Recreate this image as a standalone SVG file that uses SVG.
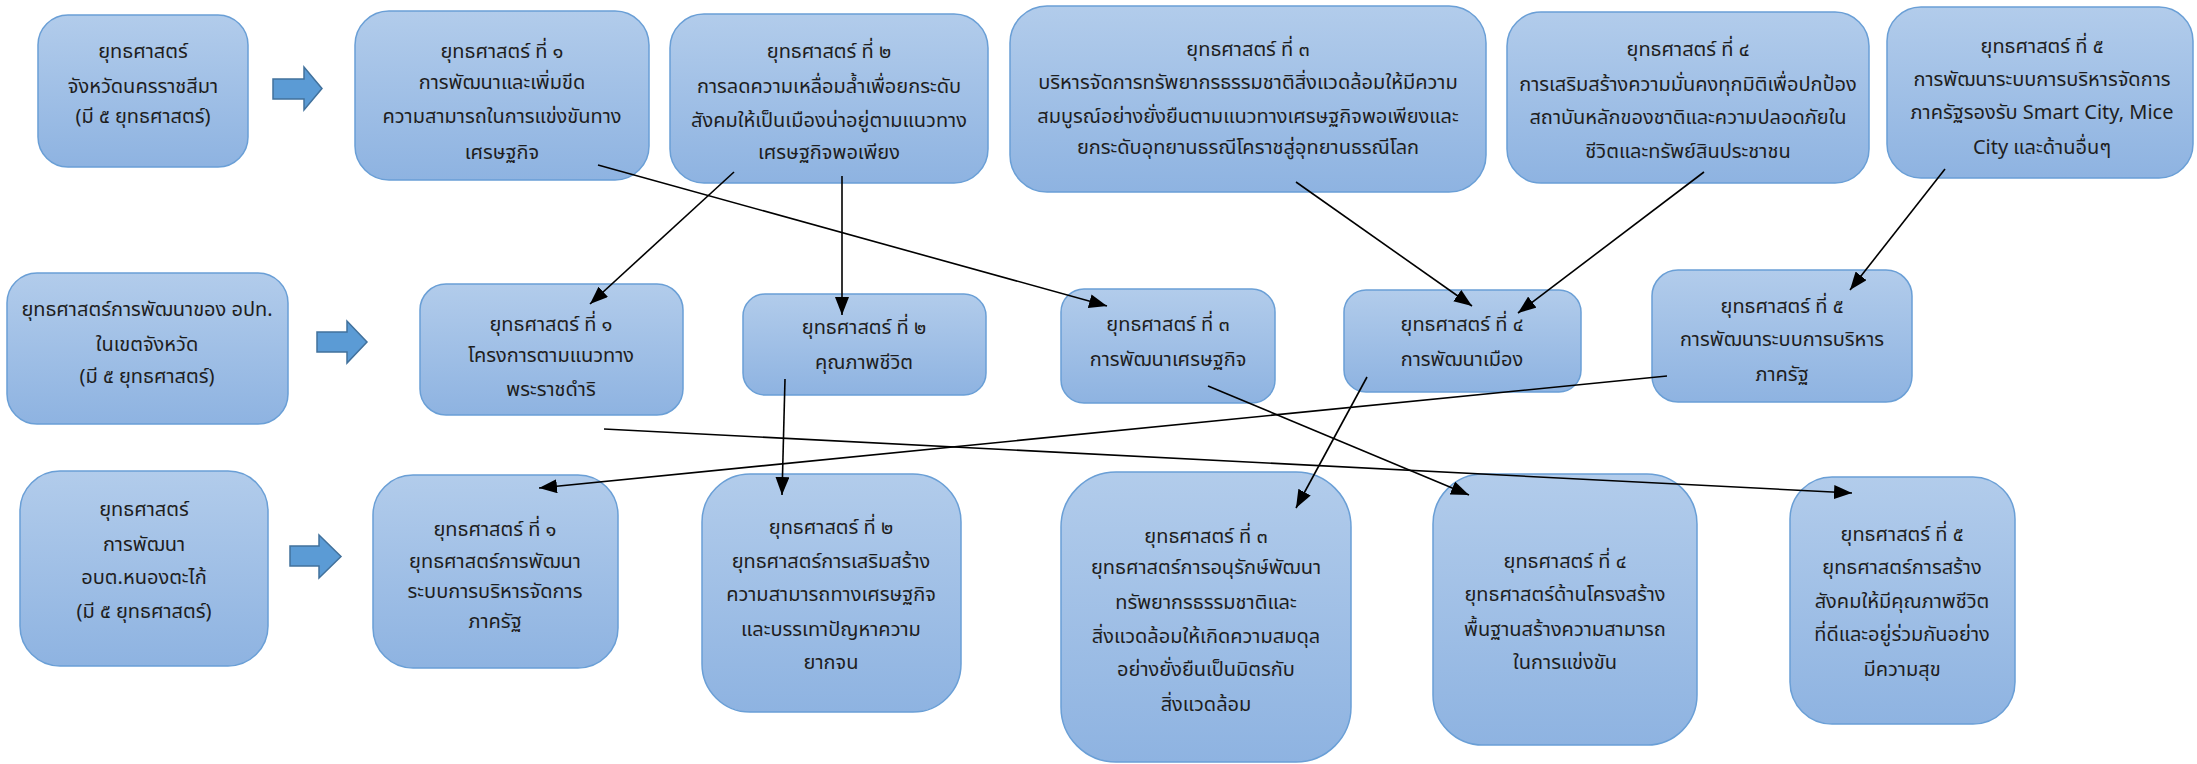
<svg xmlns="http://www.w3.org/2000/svg" width="2197" height="764" viewBox="0 0 2197 764">
<defs>
<linearGradient id="g" x1="0" y1="0" x2="0" y2="1">
<stop offset="0" stop-color="#b2cceb"/>
<stop offset="1" stop-color="#8eb3e1"/>
</linearGradient>
<marker id="ah" viewBox="0 0 18 14" refX="18" refY="7" markerWidth="18" markerHeight="14" markerUnits="userSpaceOnUse" orient="auto">
<path d="M0,0 L18,7 L0,14 Z" fill="#000"/>
</marker>
</defs>
<style>
.b{fill:url(#g);stroke:#6a9fd6;stroke-width:1.5}
.t{font-family:"Noto Sans Thai","Noto Sans","DejaVu Sans",sans-serif;font-size:20px;fill:#1e1e1e;text-anchor:middle}
.c{stroke:#000;stroke-width:1.6;fill:none;marker-end:url(#ah)}
.ba{fill:#5b9bd5;stroke:#41719c;stroke-width:1.5}
</style>
<rect width="2197" height="764" fill="#fff"/>
<g id="blockarrows">
<path class="ba" d="M273,79 H304 V67 L322,88.5 L304,110 V99 H273 Z"/>
<path class="ba" d="M317,332 H347 V321 L367,342 L347,363 V352 H317 Z"/>
<path class="ba" d="M290,546 H319 V535 L341,556.5 L319,578 V566 H290 Z"/>
</g>
<g id="nA"><rect class="b" x="38" y="15" width="210" height="152" rx="30"/>
<text class="t" x="143"><tspan x="143" y="58">ยุทธศาสตร์</tspan><tspan x="143" y="93">จังหวัดนครราชสีมา</tspan><tspan x="143" y="123">(มี ๕ ยุทธศาสตร์)</tspan></text></g>
<g id="nB1"><rect class="b" x="355" y="11" width="294" height="169" rx="34"/>
<text class="t"><tspan x="502" y="58">ยุทธศาสตร์  ที่ ๑</tspan><tspan x="502" y="89">การพัฒนาและเพิ่มขีด</tspan><tspan x="502" y="123">ความสามารถในการแข่งขันทาง</tspan><tspan x="502" y="159">เศรษฐกิจ</tspan></text></g>
<g id="nB2"><rect class="b" x="670" y="14" width="318" height="169" rx="34"/>
<text class="t"><tspan x="829" y="58">ยุทธศาสตร์  ที่ ๒</tspan><tspan x="829" y="93">การลดความเหลื่อมล้ำเพื่อยกระดับ</tspan><tspan x="829" y="127">สังคมให้เป็นเมืองน่าอยู่ตามแนวทาง</tspan><tspan x="829" y="159">เศรษฐกิจพอเพียง</tspan></text></g>
<g id="nB3"><rect class="b" x="1010" y="6" width="476" height="186" rx="37"/>
<text class="t"><tspan x="1248" y="56">ยุทธศาสตร์  ที่ ๓</tspan><tspan x="1248" y="89">บริหารจัดการทรัพยากรธรรมชาติสิ่งแวดล้อมให้มีความ</tspan><tspan x="1248" y="123">สมบูรณ์อย่างยั่งยืนตามแนวทางเศรษฐกิจพอเพียงและ</tspan><tspan x="1248" y="154">ยกระดับอุทยานธรณีโคราชสู่อุทยานธรณีโลก</tspan></text></g>
<g id="nB4"><rect class="b" x="1507" y="12" width="362" height="171" rx="34"/>
<text class="t"><tspan x="1688" y="56">ยุทธศาสตร์  ที่ ๔</tspan><tspan x="1688" y="91">การเสริมสร้างความมั่นคงทุกมิติเพื่อปกป้อง</tspan><tspan x="1688" y="124">สถาบันหลักของชาติและความปลอดภัยใน</tspan><tspan x="1688" y="158">ชีวิตและทรัพย์สินประชาชน</tspan></text></g>
<g id="nB5"><rect class="b" x="1887" y="7" width="306" height="171" rx="34"/>
<text class="t"><tspan x="2042" y="53">ยุทธศาสตร์  ที่ ๕</tspan><tspan x="2042" y="86">การพัฒนาระบบการบริหารจัดการ</tspan><tspan x="2042" y="119">ภาครัฐรองรับ Smart City, Mice</tspan><tspan x="2042" y="154">City และด้านอื่นๆ</tspan></text></g>
<g id="nC"><rect class="b" x="7" y="273" width="281" height="151" rx="30"/>
<text class="t"><tspan x="147" y="316">ยุทธศาสตร์การพัฒนาของ อปท.</tspan><tspan x="147" y="351">ในเขตจังหวัด</tspan><tspan x="147" y="383">(มี ๕ ยุทธศาสตร์)</tspan></text></g>
<g id="nD1"><rect class="b" x="420" y="284" width="263" height="131" rx="26"/>
<text class="t"><tspan x="551" y="331">ยุทธศาสตร์  ที่ ๑</tspan><tspan x="551" y="362">โครงการตามแนวทาง</tspan><tspan x="551" y="396">พระราชดำริ</tspan></text></g>
<g id="nD2"><rect class="b" x="743" y="294" width="243" height="101" rx="22"/>
<text class="t"><tspan x="864" y="334">ยุทธศาสตร์  ที่ ๒</tspan><tspan x="864" y="369">คุณภาพชีวิต</tspan></text></g>
<g id="nD3"><rect class="b" x="1061" y="289" width="214" height="114" rx="23"/>
<text class="t"><tspan x="1168" y="331">ยุทธศาสตร์  ที่ ๓</tspan><tspan x="1168" y="366">การพัฒนาเศรษฐกิจ</tspan></text></g>
<g id="nD4"><rect class="b" x="1344" y="290" width="237" height="102" rx="22"/>
<text class="t"><tspan x="1462" y="331">ยุทธศาสตร์  ที่ ๔</tspan><tspan x="1462" y="366">การพัฒนาเมือง</tspan></text></g>
<g id="nD5"><rect class="b" x="1652" y="270" width="260" height="132" rx="26"/>
<text class="t"><tspan x="1782" y="313">ยุทธศาสตร์  ที่ ๕</tspan><tspan x="1782" y="346">การพัฒนาระบบการบริหาร</tspan><tspan x="1782" y="381">ภาครัฐ</tspan></text></g>
<g id="nE"><rect class="b" x="20" y="471" width="248" height="195" rx="40"/>
<text class="t"><tspan x="144" y="516">ยุทธศาสตร์</tspan><tspan x="144" y="551">การพัฒนา</tspan><tspan x="144" y="584">อบต.หนองตะไก้</tspan><tspan x="144" y="618">(มี ๕ ยุทธศาสตร์)</tspan></text></g>
<g id="nF1"><rect class="b" x="373" y="475" width="245" height="193" rx="40"/>
<text class="t"><tspan x="495" y="536">ยุทธศาสตร์  ที่ ๑</tspan><tspan x="495" y="568">ยุทธศาสตร์การพัฒนา</tspan><tspan x="495" y="598">ระบบการบริหารจัดการ</tspan><tspan x="495" y="628">ภาครัฐ</tspan></text></g>
<g id="nF2"><rect class="b" x="702" y="474" width="259" height="238" rx="48"/>
<text class="t"><tspan x="831" y="534">ยุทธศาสตร์  ที่ ๒</tspan><tspan x="831" y="568">ยุทธศาสตร์การเสริมสร้าง</tspan><tspan x="831" y="601">ความสามารถทางเศรษฐกิจ</tspan><tspan x="831" y="636">และบรรเทาปัญหาความ</tspan><tspan x="831" y="669">ยากจน</tspan></text></g>
<g id="nF3"><rect class="b" x="1061" y="472" width="290" height="290" rx="55"/>
<text class="t"><tspan x="1206" y="543">ยุทธศาสตร์  ที่ ๓</tspan><tspan x="1206" y="574">ยุทธศาสตร์การอนุรักษ์พัฒนา</tspan><tspan x="1206" y="609">ทรัพยากรธรรมชาติและ</tspan><tspan x="1206" y="643">สิ่งแวดล้อมให้เกิดความสมดุล</tspan><tspan x="1206" y="676">อย่างยั่งยืนเป็นมิตรกับ</tspan><tspan x="1206" y="711">สิ่งแวดล้อม</tspan></text></g>
<g id="nF4"><rect class="b" x="1433" y="474" width="264" height="271" rx="50"/>
<text class="t"><tspan x="1565" y="568">ยุทธศาสตร์  ที่ ๔</tspan><tspan x="1565" y="601">ยุทธศาสตร์ด้านโครงสร้าง</tspan><tspan x="1565" y="636">พื้นฐานสร้างความสามารถ</tspan><tspan x="1565" y="669">ในการแข่งขัน</tspan></text></g>
<g id="nF5"><rect class="b" x="1790" y="477" width="225" height="247" rx="42"/>
<text class="t"><tspan x="1902" y="541">ยุทธศาสตร์  ที่ ๕</tspan><tspan x="1902" y="574">ยุทธศาสตร์การสร้าง</tspan><tspan x="1902" y="608">สังคมให้มีคุณภาพชีวิต</tspan><tspan x="1902" y="641">ที่ดีและอยู่ร่วมกันอย่าง</tspan><tspan x="1902" y="676">มีความสุข</tspan></text></g>
<g id="connectors">
<path class="c" d="M598,165 L1107,306"/>
<path class="c" d="M734,172 L590,304"/>
<path class="c" d="M842,176 L842,315"/>
<path class="c" d="M1296,182 L1472,306"/>
<path class="c" d="M1704,172 L1518,313"/>
<path class="c" d="M1945,169 L1850,290"/>
<path class="c" d="M604,429 L1852,493"/>
<path class="c" d="M785,379 L782,495"/>
<path class="c" d="M1208,386 L1469,495"/>
<path class="c" d="M1367,377 L1296,508"/>
<path class="c" d="M1667,376 L539,488"/>
</g>
</svg>
